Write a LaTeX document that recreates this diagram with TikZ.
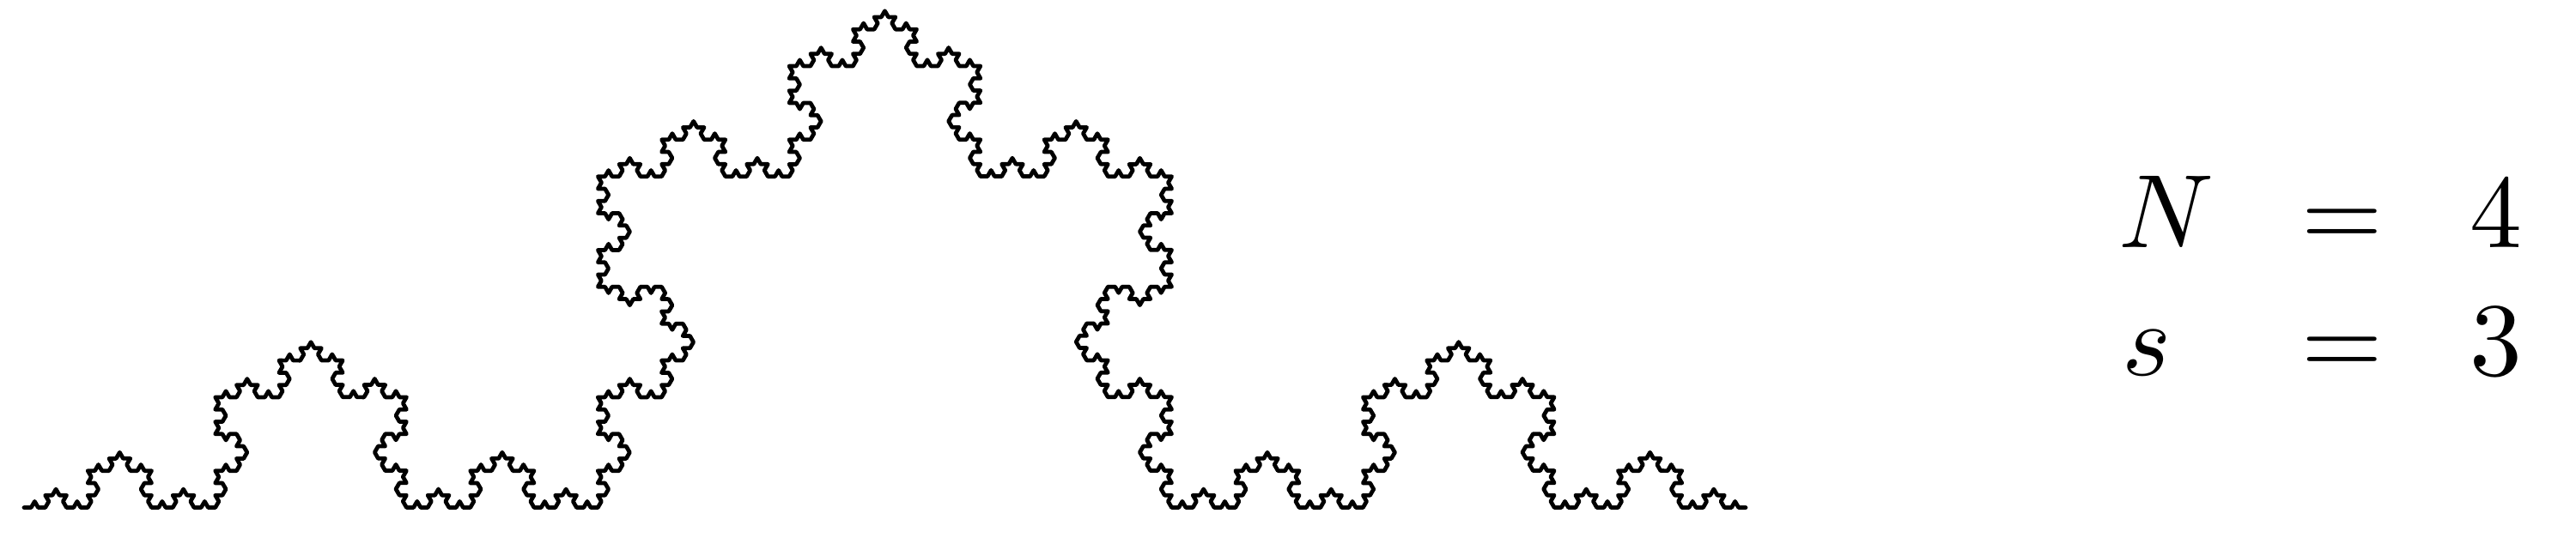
\documentclass[tikz,border=0pt]{standalone}
\usetikzlibrary{decorations.fractals}
\newcommand{\mybigmath}[1]{\scalebox{3.46}{$#1$}}
\begin{document}
\begin{tikzpicture}[x=1cm,y=1cm,
  lbl/.style={inner sep=0pt, font=\fontsize{10}{12}\selectfont},
  curve/.style={line width=1.35pt, line join=round, line cap=round, decoration=Koch snowflake}]
\useasboundingbox (0,0) rectangle (30,-6.4);
\coordinate (A) at (0.28,-5.915);
\coordinate (B) at (20.33,-5.915);
\draw[curve] decorate{decorate{decorate{decorate{decorate{ (A) -- (B) }}}}};
\node[lbl, anchor=base west] (N) at (24.665,-2.88) {\mybigmath{N}};
\node[lbl, anchor=base] (eq1) at (27.28,-2.88) {\mybigmath{=}};
\node[lbl, anchor=base] (v4) at (29.07,-2.88) {\mybigmath{4}};
\node[lbl, anchor=base west] (s) at (24.71,-4.37) {\mybigmath{s}};
\node[lbl, anchor=base] (eq2) at (27.28,-4.37) {\mybigmath{=}};
\node[lbl, anchor=base] (v3) at (29.07,-4.37) {\mybigmath{3}};
\end{tikzpicture}
\end{document}
